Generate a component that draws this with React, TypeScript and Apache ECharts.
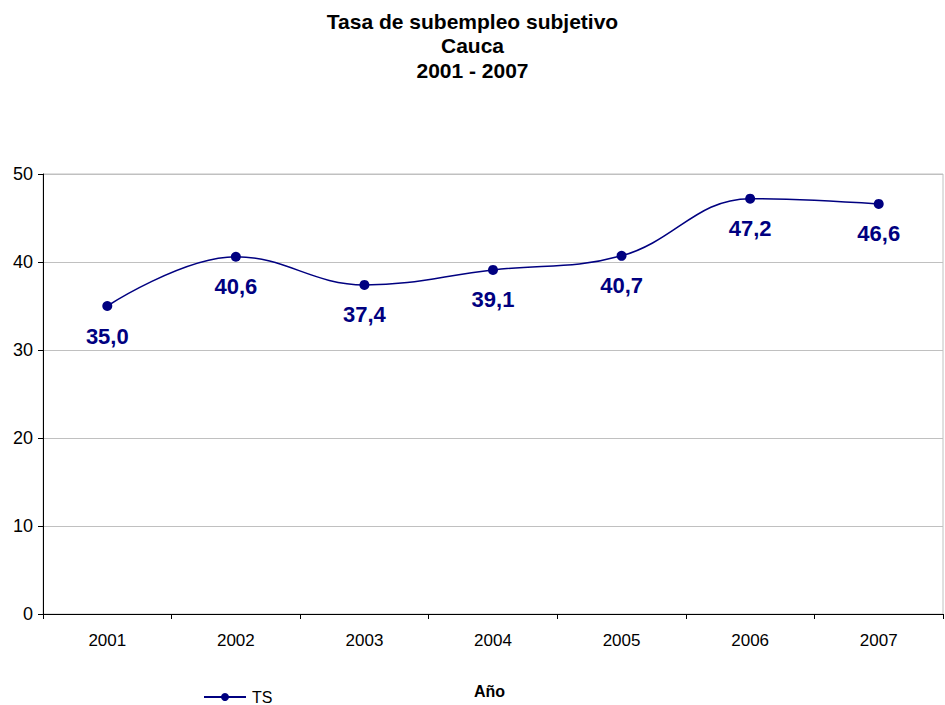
import React, { useEffect, useRef } from "react";
import * as echarts from "echarts";

const years = ["2001", "2002", "2003", "2004", "2005", "2006", "2007"];
const tsValues = [35.0, 40.6, 37.4, 39.1, 40.7, 47.2, 46.6];
const yTicks = { min: 0, max: 50, interval: 10 };
const titleLines = ["Tasa de subempleo subjetivo", "Cauca", "2001 - 2007"];
const seriesName = "TS";
const xAxisName = "Año";

export default function App() {
  const ref = useRef<HTMLDivElement>(null);
  useEffect(() => {
    if (!ref.current) return;
    const chart = echarts.init(ref.current, undefined, { renderer: "svg" });
    const font = "Arial, 'Liberation Sans', sans-serif";
    chart.setOption({
      animation: false,
      backgroundColor: "#ffffff",
      textStyle: { fontFamily: font },
      title: {
        text: titleLines.join("\n"),
        left: "center",
        top: 9,
        padding: 0,
        textStyle: { fontSize: 21, fontWeight: "bold", color: "#000", lineHeight: 24.5, fontFamily: font },
      },
      grid: {
        left: 43,
        right: 2,
        top: 174,
        bottom: 91,
        show: true,
        borderColor: "#c0c0c0",
        borderWidth: 1,
      },
      legend: {
        data: [seriesName],
        left: 203,
        top: 689,
        padding: 0,
        itemWidth: 42,
        itemHeight: 10,
        itemGap: 4,
        textStyle: { fontSize: 16, lineHeight: 16, color: "#000", fontFamily: font, padding: [0, 0, 0, 1] },
      },
      graphic: [
        {
          type: "text",
          left: 474,
          top: 683,
          style: { text: xAxisName, fontSize: 16, fontWeight: "bold", fill: "#000", fontFamily: font },
        },
      ],
      xAxis: {
        type: "category",
        data: years,
        boundaryGap: true,
        axisLine: { lineStyle: { color: "#000", width: 1 } },
        axisTick: { show: true, length: 5, inside: false, lineStyle: { color: "#000" } },
        axisLabel: { fontSize: 17, color: "#000", margin: 18, fontFamily: font },
        splitLine: { show: false },
      },
      yAxis: {
        type: "value",
        min: yTicks.min,
        max: yTicks.max,
        interval: yTicks.interval,
        axisLine: { show: true, lineStyle: { color: "#000", width: 1 } },
        axisTick: { show: true, length: 5, lineStyle: { color: "#000" } },
        axisLabel: { fontSize: 18, color: "#000", margin: 10, fontFamily: font },
        splitLine: { show: true, lineStyle: { color: "#c0c0c0", width: 1 } },
      },
      series: [
        {
          name: seriesName,
          type: "line",
          data: tsValues,
          smooth: 0.4,
          symbol: "circle",
          symbolSize: 10,
          lineStyle: { color: "#000080", width: 1.5 },
          itemStyle: { color: "#000080" },
          label: {
            show: true,
            position: "bottom",
            distance: 14,
            fontSize: 22,
            fontWeight: "bold",
            color: "#000080",
            fontFamily: font,
            formatter: (p: any) => Number(p.value).toFixed(1).replace(".", ","),
          },
        },
      ],
    });
    return () => chart.dispose();
  }, []);
  return <div ref={ref} style={{ width: 945, height: 705, position: "absolute", left: 0, top: 0 }} />;
}
